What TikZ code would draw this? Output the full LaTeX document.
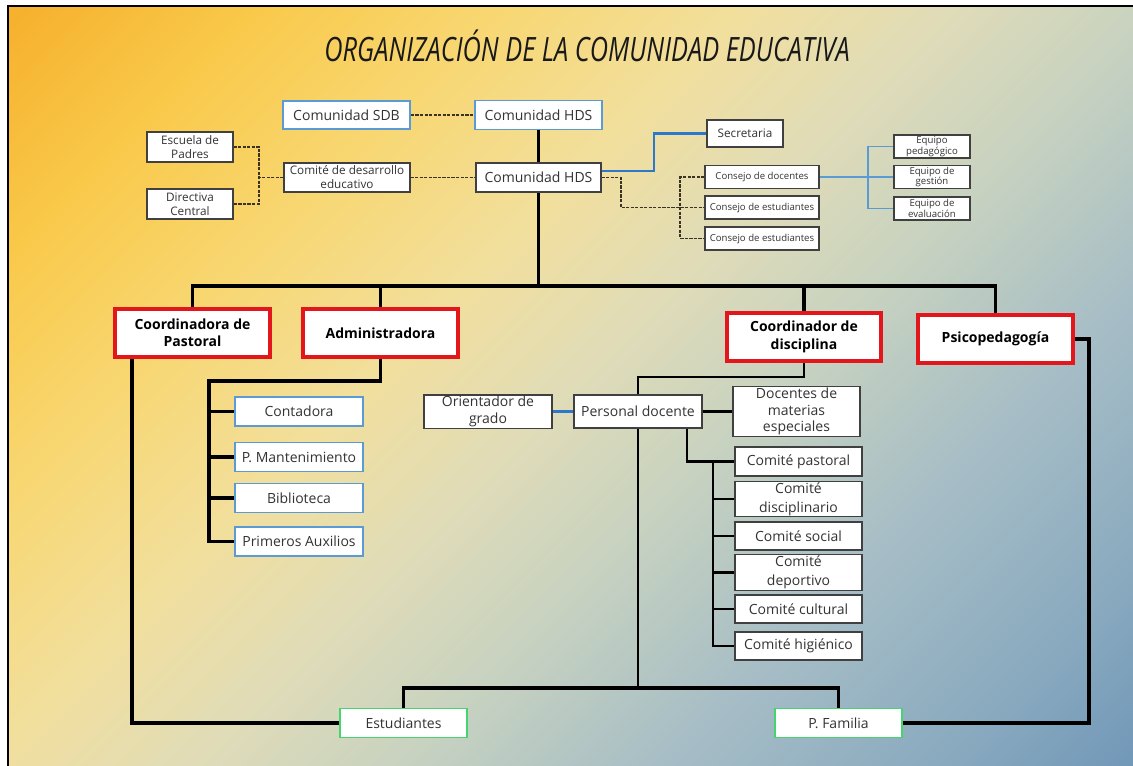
\documentclass[tikz,border=0pt]{standalone}
\usepackage{fontspec}
\usepackage{graphicx}
\setmainfont{Open Sans}
\newfontfamily\titlefont{Open Sans}
\usetikzlibrary{calc}
\definecolor{g0}{HTML}{F4A826}
\definecolor{g1}{HTML}{F6B12E}
\definecolor{g2}{HTML}{F9C94A}
\definecolor{g3}{HTML}{F8D772}
\definecolor{g4}{HTML}{F2DF9C}
\definecolor{g5}{HTML}{E0DCB8}
\definecolor{g6}{HTML}{C7D2C0}
\definecolor{g7}{HTML}{A6BDC6}
\definecolor{g8}{HTML}{8AAABF}
\definecolor{g9}{HTML}{7097B8}
\definecolor{g10}{HTML}{6A92B4}
\pgfdeclarehorizontalshading{bgshade}{100bp}{color(0bp)=(g0); color(15bp)=(g1); color(24bp)=(g2); color(33bp)=(g3); color(42bp)=(g4); color(50bp)=(g5); color(58bp)=(g6); color(68bp)=(g7); color(78bp)=(g8); color(86bp)=(g9); color(100bp)=(g10)}
\definecolor{txt}{HTML}{333333}
\definecolor{boxblue}{HTML}{5B9BD5}
\definecolor{boxred}{HTML}{E3161C}
\definecolor{boxgreen}{HTML}{45D46E}
\definecolor{dashc}{HTML}{3A3222}
\definecolor{lineblue}{HTML}{2E78CC}
\definecolor{thinblue}{HTML}{5B9BD5}
\tikzset{
  box/.style={draw, fill=white, inner sep=1pt, align=center, text=txt, font=\fontsize{10.5}{12.5}\selectfont},
  sz/.style 2 args={minimum width=#1*0.75pt, minimum height=#2*0.75pt},
  bbox/.style={box, draw=boxblue, line width=1.4pt},
  kbox/.style={box, draw=black!75, line width=1pt},
  rbox/.style={box, draw=boxred, line width=2.4pt, text=black, font=\bfseries\fontsize{10.5}{13}\selectfont},
  gbox/.style={box, draw=boxgreen, line width=1.4pt},
  small/.style={font=\fontsize{8.8}{10.5}\selectfont},
  tiny/.style={font=\fontsize{7.2}{8}\selectfont},
  thk/.style={line width=2.6pt, draw=black},
  med/.style={line width=2pt, draw=black},
  dsh/.style={line width=1.4pt, dash pattern=on 2.4pt off 1pt, draw=dashc},
  bl/.style={line width=2.2pt, draw=lineblue},
  tbl/.style={line width=1.1pt, draw=thinblue},
}
\begin{document}
\begin{tikzpicture}[x=0.75pt,y=-0.75pt]
\useasboundingbox (0,0) rectangle (1133,765);
\fill[white] (0,0) rectangle (1133,765);
\shade[shading=bgshade, shading angle=-45] (8,6) rectangle (1133,765);
\draw[line width=1.5pt] (8,775) -- (8,6) -- (1145,6);

\node[text=black!90] (title) at (587,46) {\resizebox*{394pt}{24pt}{\titlefont\itshape ORGANIZACIÓN DE LA COMUNIDAD EDUCATIVA}};

% top level
\node[bbox, sz={127}{28}] (sdb) at (346.5,115) {Comunidad SDB};
\node[bbox, sz={127}{29}] (hds1) at (538.5,115) {Comunidad HDS};
\node[kbox, sz={125}{29}] (hds2) at (538.5,177.5) {Comunidad HDS};
\node[kbox, small, sz={126}{29}] (cde) at (347,177.5) {Comité de desarrollo\\educativo};
\node[kbox, small, sz={86}{30}] (esc) at (190,147) {Escuela de\\Padres};
\node[kbox, small, sz={86}{30}] (dir) at (190,204) {Directiva\\Central};
\node[kbox, small, sz={76}{27}] (sec) at (745,133.5) {Secretaria};
\node[kbox, tiny, sz={114}{23}] (cdoc) at (762,177) {Consejo de docentes};
\node[kbox, tiny, sz={114}{23}] (cest1) at (762,207.5) {Consejo de estudiantes};
\node[kbox, tiny, sz={114}{23}] (cest2) at (762,238.5) {Consejo de estudiantes};
\node[kbox, tiny, sz={76}{23}] (eped) at (932,146.5) {Equipo\\pedagógico};
\node[kbox, tiny, sz={76}{23}] (eges) at (932,177) {Equipo de\\gestión};
\node[kbox, tiny, sz={76}{23}] (eeva) at (932,208.5) {Equipo de\\evaluación};

% second level
\node[rbox, sz={155}{48}] (cpas) at (192.5,333) {Coordinadora de\\Pastoral};
\node[rbox, sz={155}{48}] (adm) at (380.5,333) {Administradora};
\node[rbox, sz={154}{48}] (cdis) at (804,337) {Coordinador de\\disciplina};
\node[rbox, sz={155}{48}] (psi) at (995.5,339) {Psicopedagogía};

% administration
\node[bbox, sz={128}{29}] (cont) at (299,411.5) {Contadora};
\node[bbox, sz={128}{29}] (mant) at (299,457) {P. Mantenimiento};
\node[bbox, sz={128}{29}] (bib) at (299,498) {Biblioteca};
\node[bbox, sz={128}{29}] (aux) at (299,541.5) {Primeros Auxilios};

% teaching staff
\node[kbox, sz={128}{33}] (ori) at (488,411.5) {Orientador de\\grado};
\node[kbox, sz={128}{33}] (pdoc) at (638,411.5) {Personal docente};
\node[kbox, sz={127}{49}] (dme) at (796.5,411.5) {Docentes de\\materias\\especiales};
\node[kbox, sz={127}{29}] (cp) at (798.5,461.5) {Comité pastoral};
\node[kbox, sz={127}{28}, font=\fontsize{10.5}{14}\selectfont] (cdisc) at (798.5,499) {Comité\\disciplinario};
\node[kbox, sz={127}{28}] (csoc) at (798.5,536) {Comité social};
\node[kbox, sz={127}{29}, font=\fontsize{10.5}{14}\selectfont] (cdep) at (798.5,572.5) {Comité\\deportivo};
\node[kbox, sz={127}{28}] (ccul) at (798.5,609) {Comité cultural};
\node[kbox, sz={127}{28}] (chig) at (798.5,646) {Comité higiénico};

% bottom
\node[gbox, sz={127}{29}] (est) at (403.5,723) {Estudiantes};
\node[gbox, sz={127}{29}] (pfam) at (838.5,723) {P. Familia};

% coordinates
\coordinate (lb) at (259,177.5);
\coordinate (sj) at (654,133.5);
\coordinate (cj) at (621,207.5);
\coordinate (ck) at (680,207.5);
\coordinate (ej) at (868,146.5);
\coordinate (bus) at (538.5,286);
\coordinate (ab) at (209,381);
\coordinate (dj) at (638,377);
\coordinate (pk) at (687,461.5);
\coordinate (cv) at (713,461.5);
\coordinate (bb) at (638,688);
\coordinate (pl) at (132,723);
\coordinate (pr) at (1089,723);

% top connectors
\draw[dsh] (sdb.east) -- (hds1.west);
\draw[dsh] (cde.east) -- (hds2.west);
\draw[dsh] (cde.west) -- (lb);
\draw[dsh] (esc.east) -| (lb |- dir.east) -- (dir.east);
\draw[thk] (hds1.south) -- (hds2.north);
\draw[bl] ($(hds2.east)+(0,-6.5)$) -| (sj) -- (sec.west);
\draw[dsh] (hds2.east) -| (cj) -- (cest1.west);
\draw[dsh] (cdoc.west) -| (ck |- cest2.west) -- (cest2.west);
\draw[tbl] (cdoc.east) -- (eges.west);
\draw[tbl] (eped.west) -| (ej |- eeva.west) -- (eeva.west);

% main bus
\draw[thk] (hds2.south) -- (bus);
\draw[thk] (cpas.north) |- (bus) -| (psi.north);
\draw[thk] (adm.north) -- (adm.north |- bus);
\draw[thk] (cdis.north) -- (cdis.north |- bus);

% administration
\draw[thk] (adm.south) -- (adm.south |- ab) -- (ab) -- (ab |- aux.west) -- (aux.west);
\draw[thk] (ab |- cont.west) -- (cont.west);
\draw[thk] (ab |- mant.west) -- (mant.west);
\draw[thk] (ab |- bib.west) -- (bib.west);

% discipline
\draw[med] (cdis.south) -- (cdis.south |- dj) -- (dj) -- (pdoc.north);
\draw[bl] (ori.east) -- (pdoc.west);
\draw[med] (pdoc.east) -- (dme.west);
\draw[med] (pdoc.south -| pk) -- (pk) -- (cp.west);
\draw[med] (cv) -- (cv |- chig.west) -- (chig.west);
\draw[med] (cv |- cdisc.west) -- (cdisc.west);
\draw[med] (cv |- csoc.west) -- (csoc.west);
\draw[med] (cv |- cdep.west) -- (cdep.west);
\draw[med] (cv |- ccul.west) -- (ccul.west);

% bottom
\draw[med] (pdoc.south) -- (bb);
\draw[thk] (est.north) -- (est.north |- bb) -- (pfam.north |- bb) -- (pfam.north);
\draw[thk] (cpas.south -| pl) -- (pl) -- (est.west);
\draw[thk] (psi.east) -- (psi.east -| pr) -- (pr) -- (pfam.east);
\end{tikzpicture}
\end{document}
